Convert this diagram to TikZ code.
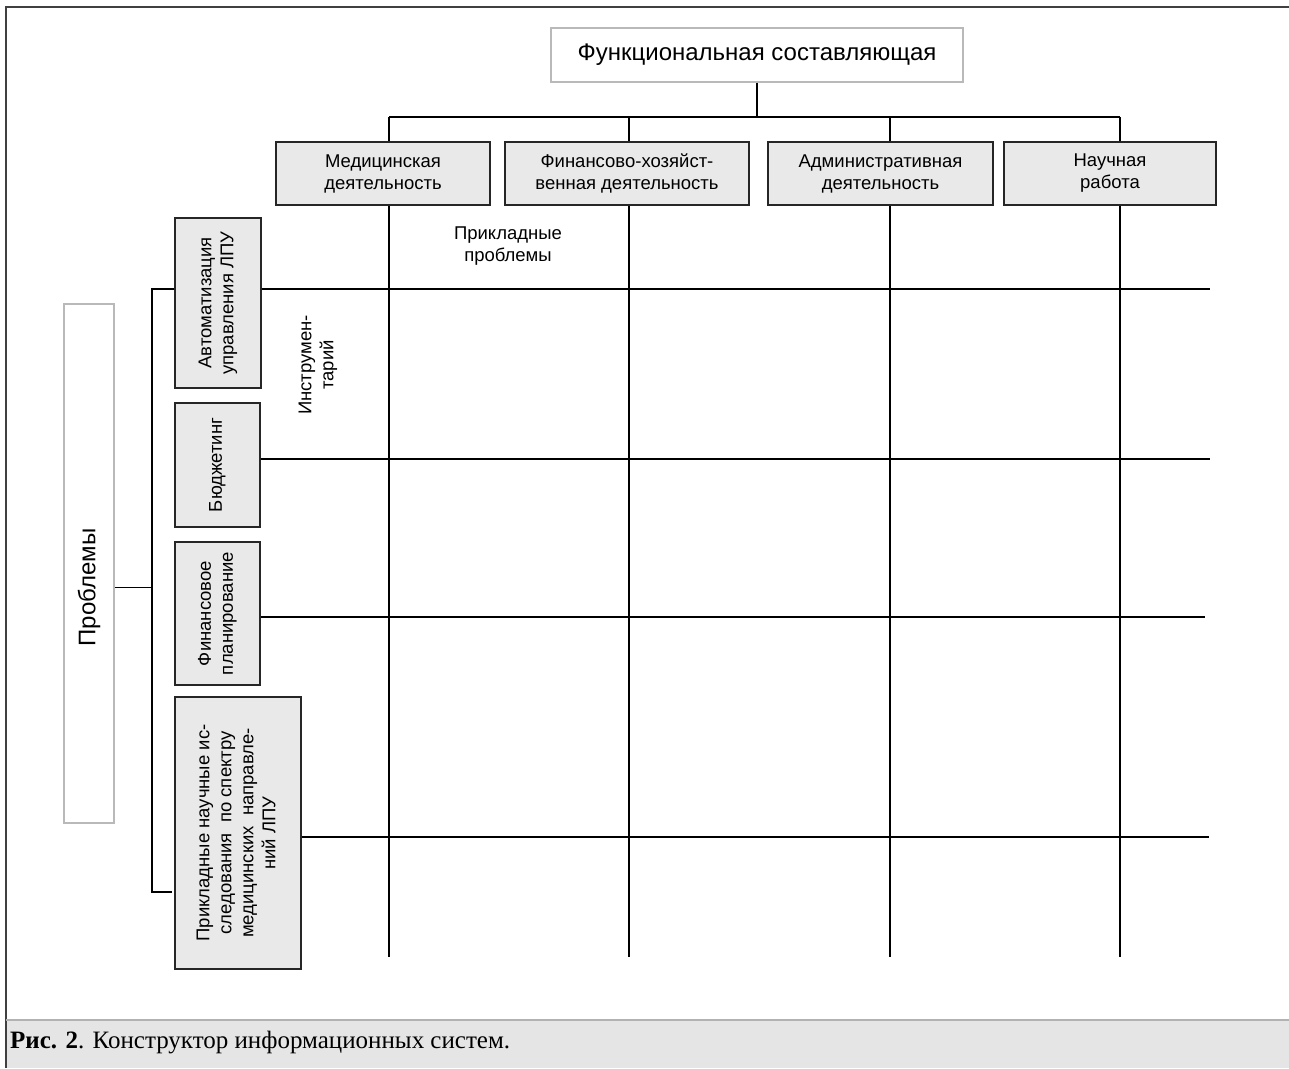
\documentclass[tikz,border=0pt]{standalone}
\usepackage{fontspec}
\setmainfont{Liberation Sans}
\newfontfamily\capfont{Liberation Serif}
\usetikzlibrary{positioning}
\tikzset{
    headbox/.style={rectangle, draw=gray!55, line width=1.8pt, fill=white, minimum width=412pt, minimum height=54pt, font=\fontsize{24}{28}\selectfont},
    colbox/.style={rectangle, draw=black!85, fill=gray!17, line width=1.1pt, inner sep=0pt, minimum height=63pt, align=center, font=\fontsize{18.5}{22}\selectfont},
    rowbox/.style={rectangle, draw=black!85, fill=gray!17, line width=1.1pt, inner sep=0pt, font=\fontsize{18.5}{22}\selectfont},
    probbox/.style={rectangle, draw=gray!55, line width=1.8pt, fill=white, minimum width=50pt, minimum height=519pt},
    tag/.style={align=center, font=\fontsize{18.5}{22}\selectfont},
    wire/.style={line width=1.1pt, black}
}
\newcommand{\turned}[1]{\rotatebox{90}{\begin{tabular}{@{}c@{}}#1\end{tabular}}}

\begin{document}
\begin{tikzpicture}[x=1pt, y=-1pt]
    \useasboundingbox (0,0) rectangle (1289,1068);

    % Frame and caption band
    \fill[gray!20] (6,1020) rectangle (1289,1068);
    \draw[black!75, line width=1.2pt] (1289,7) -- (6,7) -- (6,1068);
    \draw[gray!60, line width=1.2pt] (6,1020) -- (1289,1020);
    \node[anchor=base west, inner sep=0pt, font=\capfont\fontsize{25}{28}\selectfont] (caption) at (10,1048) {\textbf{Рис. 2}. Конструктор информационных систем.};

    % Functional part
    \node[headbox] (head) at (757,55) {Функциональная составляющая};
    \node[colbox, minimum width=214pt] (med) at (383,173.5) {Медицинская\\деятельность};
    \node[colbox, minimum width=244pt] (fin) at (627,173.5) {Финансово-хозяйст-\\венная деятельность};
    \node[colbox, minimum width=225pt] (adm) at (880.5,173.5) {Административная\\деятельность};
    \node[colbox, minimum width=212pt] (sci) at (1110,173.5) {Научная\\работа};

    \coordinate (hub) at (757,117);
    \coordinate (c1) at (389,117);
    \coordinate (c2) at (629,117);
    \coordinate (c3) at (890,117);
    \coordinate (c4) at (1120,117);
    \coordinate (floor) at (0,957);
    \draw[wire] (head.south) -- (hub);
    \draw[wire] (c1) -- (c4);
    \foreach \c/\b in {c1/med, c2/fin, c3/adm, c4/sci}{
        \draw[wire] (\c) -- (\c |- \b.north);
        \draw[wire] (\c |- \b.south) -- (\c |- floor);
    }

    % Problems
    \node[probbox] (prob) at (89,563.5) {};
    \node[rotate=90, font=\fontsize{24}{28}\selectfont] (probtext) at (89,587.5) {Проблемы};
    \node[rowbox, minimum width=86pt, minimum height=170pt] (auto) at (218,303) {\turned{Автоматизация\\управления ЛПУ}};
    \node[rowbox, minimum width=85pt, minimum height=124pt] (budget) at (217.5,465) {\turned{Бюджетинг}};
    \node[rowbox, minimum width=85pt, minimum height=143pt] (finplan) at (217.5,613.5) {\turned{Финансовое\\планирование}};
    \node[rowbox, minimum width=126pt, minimum height=272pt] (appl) at (238,833) {\turned{Прикладные научные ис-\\следования~ по спектру\\медицинских~ направле-\\ний ЛПУ}};

    \coordinate (bustop) at (152,289);
    \coordinate (busbot) at (152,892);
    \coordinate (busend) at (172,892);
    \draw[wire] (prob.east |- probtext) -- (bustop |- probtext);
    \draw[wire] (auto.west |- bustop) -- (bustop) -- (busbot) -- (busend);

    \foreach \b/\y/\e in {auto/289/1210, budget/459/1210, finplan/617/1205, appl/837/1209}
        \draw[wire] (\b.east |- 0,\y) -- (\e,\y);

    % Axis labels
    \node[tag] (applied) at (508,246) {Прикладные\\проблемы};
    \node[tag, rotate=90] (tools) at (318,365) {Инструмен-\\тарий};
\end{tikzpicture}
\end{document}
